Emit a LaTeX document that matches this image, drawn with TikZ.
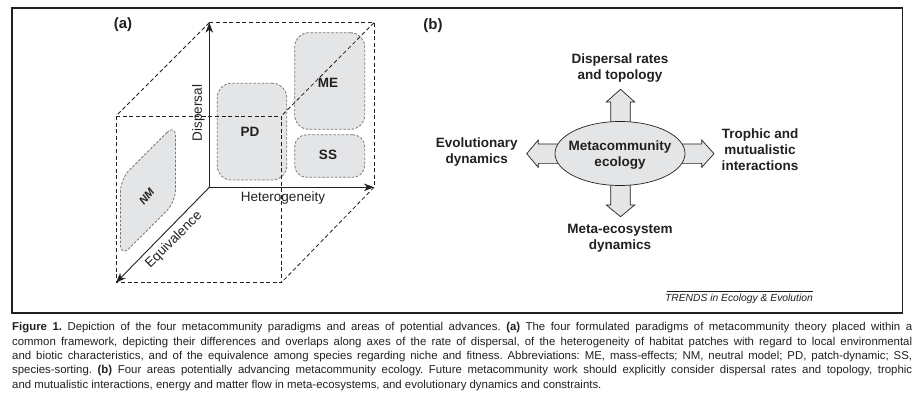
\documentclass[tikz,border=0pt]{standalone}
\usepackage{fontspec}
\setmainfont{Liberation Sans}
\usetikzlibrary{arrows.meta,shapes.geometric}
\definecolor{patch}{HTML}{E4E5E7}
\definecolor{ink}{HTML}{231F20}
\definecolor{patchline}{HTML}{7A7A7A}
\begin{document}
\frenchspacing
\begin{tikzpicture}[x=1pt,y=-1pt,
  every node/.style={text=ink},
  patchbox/.style={draw=patchline, fill=patch, line width=0.8pt, dash pattern=on 2.6pt off 1.6pt, inner sep=0pt},
  cubeline/.style={draw=ink, line width=0.8pt, dash pattern=on 4pt off 2.6pt},
  axis/.style={draw=ink, line width=0.9pt, -{Stealth[length=10pt,width=7.5pt,inset=3pt]}},
  lab/.style={font=\fontsize{13.5}{16}\selectfont, inner sep=0pt},
  blab/.style={font=\fontsize{13.5}{16}\selectfont\bfseries, inner sep=0pt, align=center},
  panel/.style={font=\fontsize{15}{18}\selectfont\bfseries, inner sep=0pt},
  blockarrow/.style={draw=ink, fill=patch, line width=0.7pt},
  capline/.style={anchor=base west, inner sep=0pt, font=\fontsize{11.4}{14.3}\selectfont}]
\useasboundingbox (0,0) rectangle (924,403);
% frame
\draw[ink, line width=1.1pt] (12,8) rectangle (902.7,313);
% ---------- panel (a) ----------
\node[panel] (pa) at (123,25) {(a)};
% patches
\node[patchbox, minimum width=69.4pt, minimum height=96.7pt, rounded corners=14pt] (PD) at (252,131.7) {};
\node[patchbox, minimum width=70pt, minimum height=96.6pt, rounded corners=14pt] (ME) at (329.7,81) {};
\node[patchbox, minimum width=70pt, minimum height=42.6pt, rounded corners=12pt] (SS) at (329.7,156) {};
\begin{scope}[shift={(148,190.5)}, cm={1,1,0,1,(0,0)}]
  \node[patchbox, transform shape, minimum width=55pt, minimum height=78pt, rounded corners=12pt] (NM) at (0,0) {};
\end{scope}
\node[blab] at (250,131.7) {PD};
\node[blab] at (328,82.7) {ME};
\node[blab] at (328,155) {SS};
\node[font=\fontsize{11}{13}\selectfont\bfseries\itshape, rotate=50, inner sep=0pt] at (146.7,196.7) {NM};
% cube coordinates
\coordinate (O) at (209.3,187.3);
\coordinate (D) at (209.3,22.7);
\coordinate (H) at (374,187.3);
\coordinate (E) at (116,282.7);
\coordinate (BTR) at (374,22.7);
\coordinate (FTL) at (116,116);
\coordinate (FTR) at (281.3,116);
\coordinate (FBR) at (281.3,282.7);
% dashed cube edges
\draw[cubeline] (D) -- (BTR) -- (H);
\draw[cubeline] (D) -- (FTL);
\draw[cubeline] (BTR) -- (FTR);
\draw[cubeline] (H) -- (FBR);
\draw[cubeline] (FTL) -- (FTR) -- (FBR) -- (E) -- cycle;
% axes
\draw[axis] (O) -- (D);
\draw[axis] (O) -- (H);
\draw[axis] (O) -- (E);
\node[lab, rotate=90] (Dl) at (198.3,113) {Dispersal};
\node[lab] (Hl) at (283,197.7) {Heterogeneity};
\node[lab, rotate=45] (El) at (174,240) {Equivalence};
% ---------- panel (b) ----------
\node[panel] (pb) at (433,26) {(b)};
% block arrows
\draw[blockarrow] (610.7,132) -- (610.7,102) -- (606.3,102) -- (620.5,89.3) -- (634.7,102) -- (630.3,102) -- (630.3,132) -- cycle;
\draw[blockarrow] (610.7,175) -- (610.7,205) -- (606.3,205) -- (620.5,216.7) -- (634.7,205) -- (630.3,205) -- (630.3,175) -- cycle;
\draw[blockarrow] (570,144) -- (538.3,144) -- (538.3,140) -- (526.7,153.7) -- (538.3,167.4) -- (538.3,163.4) -- (570,163.4) -- cycle;
\draw[blockarrow] (670,144) -- (701.7,144) -- (701.7,140) -- (714,153.7) -- (701.7,167.4) -- (701.7,163.4) -- (670,163.4) -- cycle;
\node[ellipse, draw=ink, fill=patch, line width=0.7pt, minimum width=130pt, minimum height=64pt, inner sep=0pt] (MC) at (620,153.5) {};
\node[blab] (MCl) at (620,155.3) {Metacommunity\\ecology};
\node[blab] (top) at (620,68) {Dispersal rates\\and topology};
\node[blab] (left) at (476.7,152) {Evolutionary\\dynamics};
\node[blab] (right) at (760,150) {Trophic and\\mutualistic\\interactions};
\node[blab] (bot) at (620,238.3) {Meta-ecosystem\\dynamics};
% journal tag
\draw[ink, line width=0.6pt] (666.7,291.7) -- (813,291.7);
\node[anchor=base east, inner sep=0pt, font=\fontsize{10.3}{12}\selectfont\itshape] (tag) at (813,302) {TRENDS in Ecology \& Evolution};
% ---------- caption ----------
\node[capline] (c1) at (12,331) {\makebox[900pt][s]{\textbf{Figure 1.} Depiction of the four metacommunity paradigms and areas of potential advances. \textbf{(a)} The four formulated paradigms of metacommunity theory placed within a}};
\node[capline] (c2) at (12,345.3) {\makebox[900pt][s]{common framework, depicting their differences and overlaps along axes of the rate of dispersal, of the heterogeneity of habitat patches with regard to local environmental}};
\node[capline] (c3) at (12,359.6) {\makebox[900pt][s]{and biotic characteristics, and of the equivalence among species regarding niche and fitness. Abbreviations: ME, mass-effects; NM, neutral model; PD, patch-dynamic; SS,}};
\node[capline] (c4) at (12,373.9) {\makebox[900pt][s]{species-sorting. \textbf{(b)} Four areas potentially advancing metacommunity ecology. Future metacommunity work should explicitly consider dispersal rates and topology, trophic}};
\node[capline] (c5) at (12,388.2) {and mutualistic interactions, energy and matter flow in meta-ecosystems, and evolutionary dynamics and constraints.};
\end{tikzpicture}
\end{document}
